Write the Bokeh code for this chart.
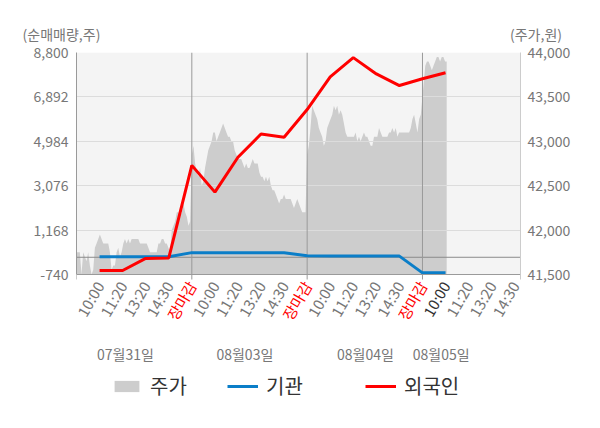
import math
import numpy as np
from bokeh.plotting import figure
from bokeh.layouts import column
from bokeh.models import (Range1d, LinearAxis, FixedTicker, NumeralTickFormatter,
                          Span, Legend, LegendItem)
from bokeh.embed import file_html
from bokeh.resources import INLINE

FONT = "Noto Sans CJK KR"

# ---------------- data ----------------
session_labels = ["10:00", "11:20", "13:20", "14:30", "장마감"]
dates = ["07월31일", "08월03일", "08월04일", "08월05일"]

# cumulative net buying (shares), one value per session slot
foreign = [-570, -570, -50, -30, 3950, 2800, 4300, 5300, 5160, 6350,
           7750, 8580, 7880, 7380, 7670, 7930]
institution = [20, 20, 20, 20, 200, 190, 190, 190, 190, 70,
               50, 50, 50, 50, -670, -670]

# intraday stock price (won)
price_d1 = [41750, 41750, 41750, 41500, 41750, 41700, 41650, 41750, 41600, 41500,
            41550, 41800, 41850, 41900, 41950, 41900, 41850, 41850, 41850, 41850,
            41750, 41550, 41600, 41600, 41750, 41800, 41700, 41750, 41850, 41900,
            41850, 41900, 41850, 41900, 41900, 41900, 41900, 41900, 41850, 41850,
            41850, 41850, 41850, 41800, 41750, 41750, 41750, 41750, 41750, 41850,
            41850, 41900, 41900, 41850, 41850, 41800, 41750, 42000, 42050, 42100,
            42200, 42200, 42150, 42200, 42300, 42200, 42150, 42050, 42100]
price_d2 = [42850, 42950, 42750, 42650, 42600, 42700, 42500, 42550, 42700, 42800,
            42900, 42950, 43000, 43100, 43100, 43000, 43050, 43100, 43150, 43200,
            43150, 43100, 43050, 43050, 43000, 43000, 42900, 42850, 42800, 42800,
            42800, 42750, 42700, 42750, 42700, 42700, 42750, 42800, 42750, 42750,
            42750, 42650, 42600, 42600, 42550, 42600, 42550, 42600, 42500, 42450,
            42450, 42400, 42350, 42300, 42350, 42350, 42400, 42350, 42350, 42350,
            42350, 42300, 42250, 42300, 42350, 42300, 42250, 42200, 42200, 42200]
price_d3 = [42850, 42950, 43150, 43400, 43350, 43300, 43250, 43150, 43100, 43050,
            42950, 43000, 43150, 43200, 43250, 43300, 43400, 43350, 43400, 43300,
            43350, 43300, 43200, 43100, 43050, 43050, 43050, 43050, 43050, 43100,
            43000, 43050, 43000, 43050, 43100, 43050, 43050, 43000, 42950, 42950,
            43050, 43050, 43050, 43150, 43100, 43050, 43050, 43050, 43050, 43100,
            43100, 43150, 43100, 43150, 43050, 43100, 43100, 43100, 43100, 43100,
            43100, 43100, 43150, 43250, 43300, 43200, 43100, 43250, 43300]
price_d4 = [43650, 43850, 43900, 43900, 43850, 43800, 43850, 43900, 43950, 43950,
            43900, 43950, 43950, 43900, 43900]

left_ticks = [-740, 1168, 3076, 4984, 6892, 8800]
right_ticks = [41500, 42000, 42500, 43000, 43500, 44000]

# ---------------- layout constants (pixels) ----------------
W = 584
CAP_H = 43                  # caption strip height
H = 412 - CAP_H             # main figure height
B_LEFT, B_RIGHT, B_TOP = 76, 64, 9
CHART_H = 222               # height of the plotting area proper
X0, X1 = -1, 18.25
frame_w = W - B_LEFT - B_RIGHT
frame_h = H - B_TOP
ux = (X1 - X0) / frame_w
uy = (left_ticks[-1] - left_ticks[0]) / CHART_H
up = (right_ticks[-1] - right_ticks[0]) / CHART_H
y_lo = left_ticks[-1] - frame_h * uy
p_lo = right_ticks[-1] - frame_h * up
GRAY_TXT = "#777777"
AXIS_COL = "#9a9a9a"

# ---------------- caption strip ----------------
cap = figure(width=W, height=CAP_H, output_backend="svg", toolbar_location=None,
             x_range=Range1d(X0 - B_LEFT * ux, X0 + (W - B_LEFT) * ux),
             y_range=Range1d(CAP_H, 0), min_border=0,
             x_axis_location=None, y_axis_location=None,
             outline_line_color=None, background_fill_color="white",
             border_fill_color="white")
cap.frame_align = False
cap.grid.visible = False
cap.text(x=[X0 - 15 * ux, X0 + 459.5 * ux], y=[33, 33],
         text=["(순매매량,주)", "(주가,원)"], text_align="center",
         text_baseline="middle", text_font={"value": FONT},
         text_font_size="14px", text_color=GRAY_TXT)

# ---------------- main chart ----------------
p = figure(width=W, height=H, output_backend="svg", toolbar_location=None,
           x_range=Range1d(X0, X1), y_range=Range1d(y_lo, left_ticks[-1]),
           min_border_left=B_LEFT, min_border_right=B_RIGHT,
           min_border_top=B_TOP, min_border_bottom=0,
           x_axis_location=None,
           background_fill_color="white", border_fill_color="white",
           outline_line_color=None)
p.frame_align = False
p.extra_y_ranges = {"price": Range1d(p_lo, right_ticks[-1])}

# light plotting-area background
p.quad(left=X0, right=X1, bottom=left_ticks[0], top=left_ticks[-1],
       fill_color="#f4f4f4", line_color=None, level="image")

# price area: each trading day spans 5 slots (09:00 -> 15:30)
n_slots = len(session_labels)
px, py = [], []
for d, arr in enumerate([price_d1, price_d2, price_d3]):
    start = d * n_slots - 1
    px.extend(np.linspace(start, start + n_slots, len(arr) + 1)[:-1])
    py.extend(arr)
start4 = 3 * n_slots - 1
px.extend(np.linspace(start4 + 0.05, start4 + 1.05, len(price_d4)))
py.extend(price_d4)
area = p.varea(x=px, y1=right_ticks[0], y2=py, y_range_name="price",
               fill_color="#cdcdcd", level="image")

# grid
p.xgrid.visible = False
p.ygrid.ticker = FixedTicker(ticks=left_ticks[1:-1])
p.ygrid.grid_line_color = "#dcdcdc"
day_bounds = [n_slots * k - 1 for k in range(1, 4)]
p.segment(x0=day_bounds, y0=left_ticks[0], x1=day_bounds, y1=left_ticks[-1],
          line_color=AXIS_COL, line_width=1)
p.add_layout(Span(location=0, dimension="width", line_color="#8a8a8a",
                  line_width=1, level="underlay"))

slots = np.arange(len(foreign))
blue = p.line(slots, institution, line_color="#0b7ec8", line_width=3)
red = p.line(slots, foreign, line_color="#ff0000", line_width=3)

# bottom axis line and day ticks
p.add_layout(Span(location=left_ticks[0], dimension="width",
                  line_color=AXIS_COL, line_width=1))
tick_x = [n_slots * k - 1 for k in range(4)] + [X1]
p.segment(x0=tick_x, y0=left_ticks[0], x1=tick_x, y1=left_ticks[0] - 5 * uy,
          line_color=AXIS_COL, line_width=1)


def style_labels(ax, color=GRAY_TXT, size="14px"):
    ax.major_label_text_font = FONT
    ax.major_label_text_font_size = size
    ax.major_label_text_color = color


# left axis
ya = p.yaxis[0]
ya.ticker = FixedTicker(ticks=left_ticks)
ya.formatter = NumeralTickFormatter(format="0,0")
ya.bounds = (left_ticks[0], left_ticks[-1])
ya.axis_line_color = AXIS_COL
ya.major_tick_line_color = None
ya.minor_tick_line_color = None
ya.major_tick_out = 0
ya.major_tick_in = 0
ya.major_label_standoff = 8
style_labels(ya)

# right axis
ra = LinearAxis(y_range_name="price", ticker=FixedTicker(ticks=right_ticks),
                formatter=NumeralTickFormatter(format="0,0"),
                bounds=(right_ticks[0], right_ticks[-1]))
ra.axis_line_color = "#cccccc"
ra.major_tick_line_color = None
ra.minor_tick_line_color = None
ra.major_tick_out = 0
ra.major_tick_in = 0
ra.major_label_standoff = 7
style_labels(ra)
p.add_layout(ra, "right")

# time-of-day labels under the chart
tick_labels = (session_labels * 4)[:19]
label_colors = ["#ff0000" if t == session_labels[-1] else GRAY_TXT for t in tick_labels]
label_colors[3 * n_slots] = "#333333"     # latest session
ANG = math.radians(60)
p.text(x=list(range(len(tick_labels))), y=left_ticks[0] - 8 * uy, text=tick_labels,
       angle=ANG, text_align="right", text_baseline="middle",
       text_font={"value": FONT}, text_font_size="15px", text_color=label_colors)

# date labels
date_label_pos = [1.12, 6.3, 11.53, 14.81]
p.text(x=date_label_pos, y=left_ticks[0] - 79 * uy, text=dates,
       text_align="center", text_baseline="middle",
       text_font={"value": FONT}, text_font_size="14px", text_color=GRAY_TXT)

# legends (one per series so each can sit at its own x)
for rend, name, xoff in [(area, "주가", 38), (blue, "기관", 154), (red, "외국인", 292)]:
    lg = Legend(items=[LegendItem(label=name, renderers=[rend])],
                location=(xoff - 3, 12), orientation="horizontal",
                padding=0, margin=0, border_line_color=None,
                background_fill_alpha=0, glyph_width=31, glyph_height=14,
                label_standoff=8, label_text_font=FONT,
                label_text_font_size="20px", label_text_color="#333333")
    p.add_layout(lg)

layout = column(cap, p)
open("out.html", "w").write(file_html(layout, INLINE))
